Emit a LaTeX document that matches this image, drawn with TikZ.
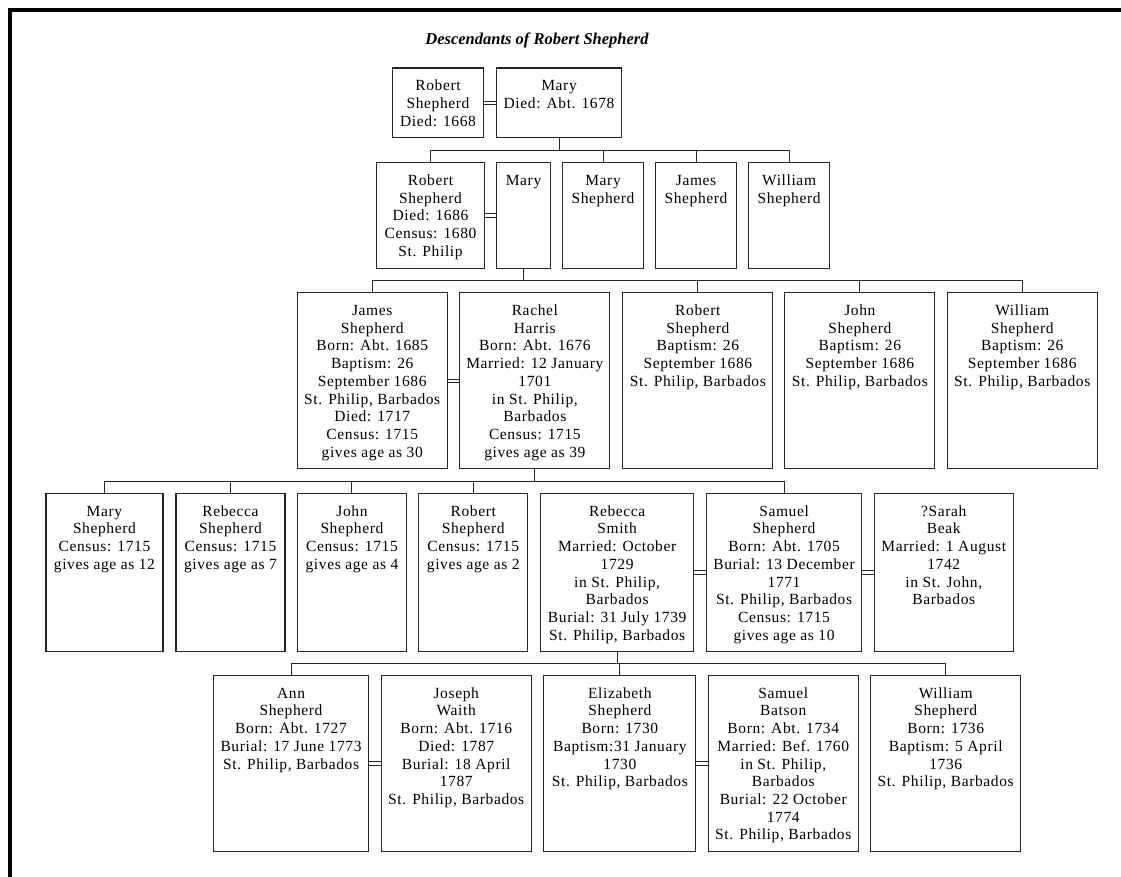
\documentclass[tikz,border=0pt]{standalone}
\usepackage{fontspec}
\setmainfont{Liberation Serif}
\newfontfamily\boxfont[LetterSpace=4]{Liberation Serif}

% one person box: name, left, top, width, height, text lines
\newcommand{\person}[6]{%
  \node[person] (#1) at (#2,#3)
    {\parbox[t][#5pt][t]{#4pt}{\centering\rule{0pt}{22.7pt}#6}};}

\begin{document}
\begin{tikzpicture}[x=1pt,y=-1pt,
  person/.style={draw=black!85, line width=1.1pt, inner sep=0pt,
    anchor=north west, font=\boxfont\fontsize{15.5}{17.7}\selectfont},
  link/.style={line width=1pt, draw=black!85},
  wed/.style={line width=0.9pt, draw=black!85},
  frame/.style={line width=4pt, line join=miter}]

\useasboundingbox (0,0) rectangle (1121,877);

% page border (top and left edges)
\draw[frame] (9.5,877) -- (9.5,9.7) -- (1121,9.7);

\node (title) at (537,40)
  {\fontsize{16.5}{20}\selectfont\bfseries\itshape Descendants of Robert Shepherd};

% generation 1
\person{RSa}{392}{67.5}{91}{69.5}{Robert\\Shepherd\\Died: 1668}
\person{MAa}{496}{67.5}{125}{69.5}{Mary\\Died: Abt. 1678}

% generation 2
\person{RSb}{376}{162.3}{108}{105.4}{Robert\\Shepherd\\Died: 1686\\Census: 1680\\St. Philip}
\person{MAb}{496}{162.3}{54}{105.4}{Mary}
\person{MSb}{562}{162.3}{81}{105.4}{Mary\\Shepherd}
\person{JSb}{655}{162.3}{81}{105.4}{James\\Shepherd}
\person{WSb}{748.3}{162.3}{80.5}{105.4}{William\\Shepherd}

% generation 3
\person{JSc}{296.7}{292.3}{150}{175.8}{James\\Shepherd\\Born: Abt. 1685\\Baptism: 26\\September 1686\\St. Philip, Barbados\\Died: 1717\\Census: 1715\\gives age as 30}
\person{RHc}{459.3}{292.3}{150}{175.8}{Rachel\\Harris\\Born: Abt. 1676\\Married: 12 January\\1701\\in St. Philip,\\Barbados\\Census: 1715\\gives age as 39}
\person{RSc}{622.3}{292.3}{150}{175.8}{Robert\\Shepherd\\Baptism: 26\\September 1686\\St. Philip, Barbados}
\person{JOc}{784.3}{292.3}{150}{175.8}{John\\Shepherd\\Baptism: 26\\September 1686\\St. Philip, Barbados}
\person{WSc}{946.7}{292.3}{150}{175.8}{William\\Shepherd\\Baptism: 26\\September 1686\\St. Philip, Barbados}

% generation 4
\person{MSd}{45.4}{493}{117}{158}{Mary\\Shepherd\\Census: 1715\\gives age as 12}
\person{RBd}{175.4}{493}{109}{158}{Rebecca\\Shepherd\\Census: 1715\\gives age as 7}
\person{JOd}{297.1}{493}{108.6}{158}{John\\Shepherd\\Census: 1715\\gives age as 4}
\person{ROd}{418.2}{493}{109}{158}{Robert\\Shepherd\\Census: 1715\\gives age as 2}
\person{RMd}{540.2}{493}{152.8}{158}{Rebecca\\Smith\\Married: October\\1729\\in St. Philip,\\Barbados\\Burial: 31 July 1739\\St. Philip, Barbados}
\person{SSd}{705.8}{493}{155.4}{158}{Samuel\\Shepherd\\Born: Abt. 1705\\Burial: 13 December\\1771\\St. Philip, Barbados\\Census: 1715\\gives age as 10}
\person{SBd}{873.7}{493}{139}{158}{?Sarah\\Beak\\Married: 1 August\\1742\\in St. John,\\Barbados}

% generation 5
\person{ASe}{212.7}{675}{155.6}{176}{Ann\\Shepherd\\Born: Abt. 1727\\Burial: 17 June 1773\\St. Philip, Barbados}
\person{JWe}{380.7}{675}{150}{176}{Joseph\\Waith\\Born: Abt. 1716\\Died: 1787\\Burial: 18 April\\1787\\St. Philip, Barbados}
\person{ESe}{543.3}{675}{152}{176}{Elizabeth\\Shepherd\\Born: 1730\\Baptism:31 January\\1730\\St. Philip, Barbados}
\person{BAe}{707.7}{675}{150}{176}{Samuel\\Batson\\Born: Abt. 1734\\Married: Bef. 1760\\in St. Philip,\\Barbados\\Burial: 22 October\\1774\\St. Philip, Barbados}
\person{WSe}{870.3}{675}{149.7}{176}{William\\Shepherd\\Born: 1736\\Baptism: 5 April\\1736\\St. Philip, Barbados}

% marriages: a pair of parallel rules between the spouses
\foreach \a/\b in {RSa/MAa, RSb/MAb, JSc/RHc, RMd/SSd, SSd/SBd, ASe/JWe, ESe/BAe} {
  \draw[wed] ([yshift=1.7pt]\a.east) -- ([yshift=1.7pt]\b.west);
  \draw[wed] ([yshift=-1.7pt]\a.east) -- ([yshift=-1.7pt]\b.west);
}

% parent-to-child lines through a bus 12pt above each generation
\foreach \p/\c in {MAa/RSb, MAa/MSb, MAa/JSb, MAa/WSb,
                   MAb/JSc, MAb/RSc, MAb/JOc, MAb/WSc,
                   RHc/MSd, RHc/RBd, RHc/JOd, RHc/ROd, RHc/SSd,
                   RMd/ASe, RMd/ESe, RMd/WSe}
  \draw[link] (\p.south) |- ([yshift=12pt]\c.north) -- (\c.north);

\end{tikzpicture}
\end{document}
